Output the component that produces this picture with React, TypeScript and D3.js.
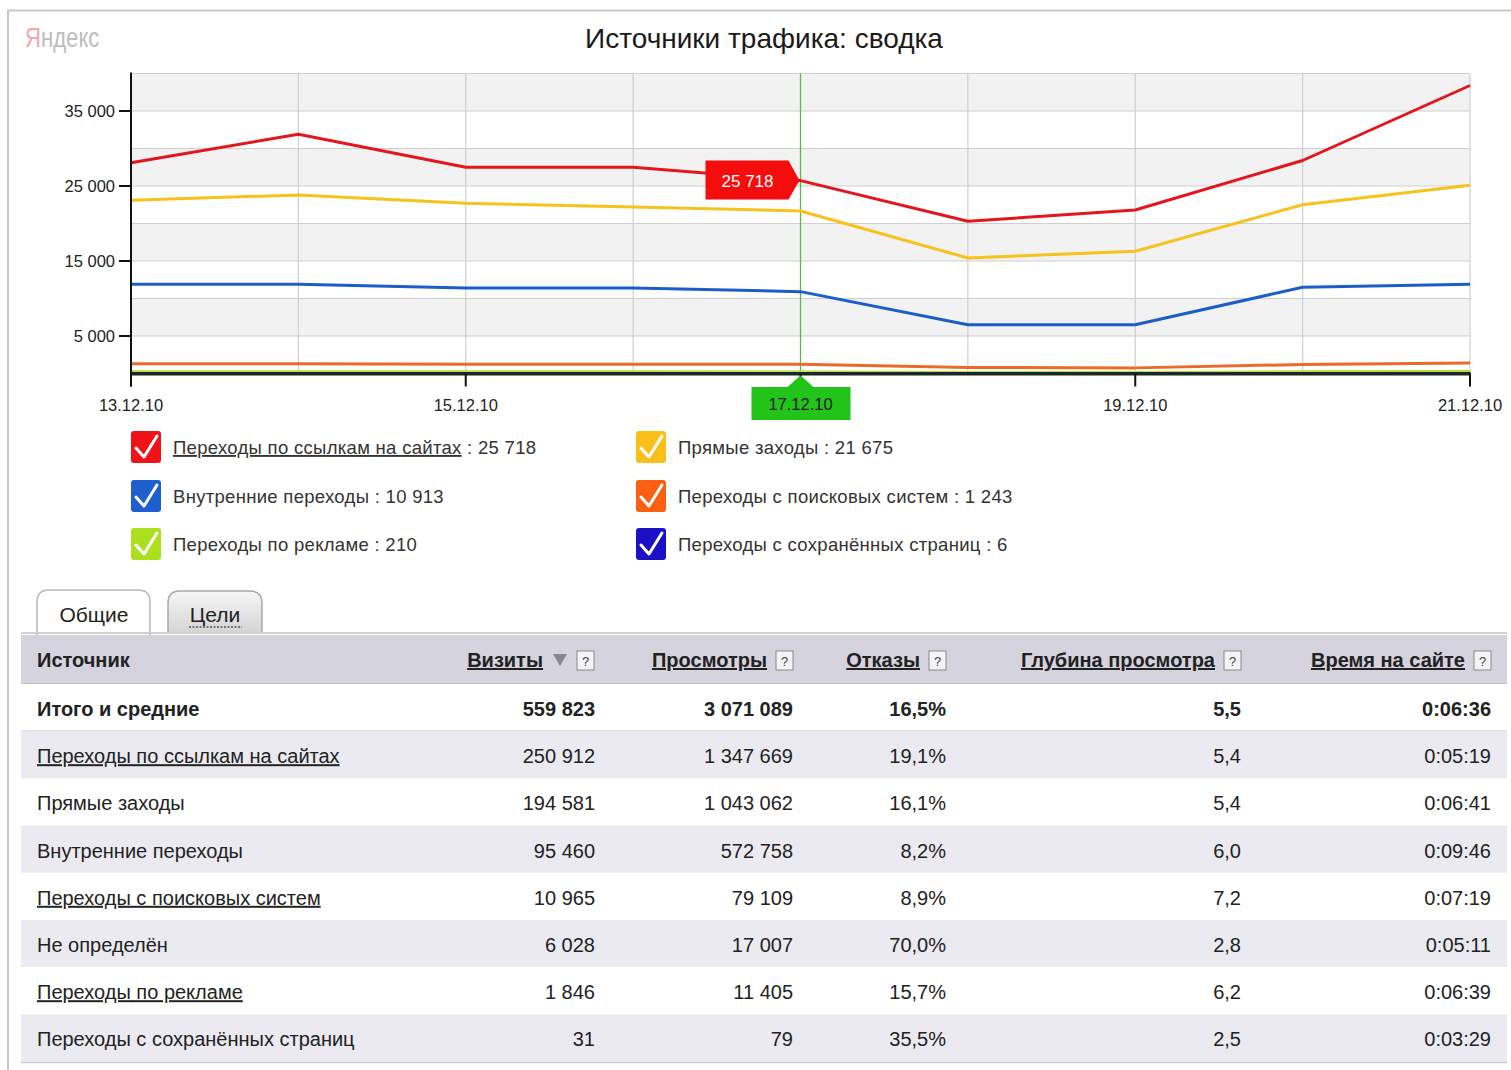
import React from 'react';
import * as d3 from 'd3';

const dates = ['13.12.10', '14.12.10', '15.12.10', '16.12.10', '17.12.10', '18.12.10', '19.12.10', '20.12.10', '21.12.10'];
const linkVisits = [28100, 31900, 27500, 27500, 25718, 20300, 21800, 28400, 38400];
const directVisits = [23100, 23800, 22700, 22200, 21675, 15400, 16300, 22500, 25100];
const internalVisits = [11900, 11900, 11400, 11400, 10913, 6500, 6500, 11500, 11900];
const searchVisits = [1300, 1300, 1250, 1250, 1243, 800, 750, 1200, 1400];
const adVisits = [250, 250, 230, 220, 210, 150, 150, 220, 260];
const savedVisits = [7, 6, 6, 5, 6, 3, 3, 5, 6];
const yTickValues = [5000, 15000, 25000, 35000];
const xTickLabels = ['13.12.10', '15.12.10', '17.12.10', '19.12.10', '21.12.10'];
const selectedDate = '17.12.10';

const seriesNames = ['Переходы по ссылкам на сайтах', 'Прямые заходы', 'Внутренние переходы', 'Переходы с поисковых систем', 'Переходы по рекламе', 'Переходы с сохранённых страниц'];
const seriesColors = ['#e3161d', '#f7c21b', '#1c5ec7', '#ec6a2c', '#b4e02a', '#1f14b8'];
const boxColors = ['#f01418', '#fbbf1a', '#1e5fcf', '#fb5f12', '#acdf1d', '#1b10c6'];
const seriesLinked = [true, false, false, false, false, false];

const tableHeaders = ['Источник', 'Визиты', 'Просмотры', 'Отказы', 'Глубина просмотра', 'Время на сайте'];
const rowSources = ['Итого и средние', 'Переходы по ссылкам на сайтах', 'Прямые заходы', 'Внутренние переходы', 'Переходы с поисковых систем', 'Не определён', 'Переходы по рекламе', 'Переходы с сохранённых страниц'];
const rowLinked = [false, true, false, false, true, false, true, false];
const colVisits = ['559 823', '250 912', '194 581', '95 460', '10 965', '6 028', '1 846', '31'];
const colViews = ['3 071 089', '1 347 669', '1 043 062', '572 758', '79 109', '17 007', '11 405', '79'];
const colBounce = ['16,5%', '19,1%', '16,1%', '8,2%', '8,9%', '70,0%', '15,7%', '35,5%'];
const colDepth = ['5,5', '5,4', '5,4', '6,0', '7,2', '2,8', '6,2', '2,5'];
const colTime = ['0:06:36', '0:05:19', '0:06:41', '0:09:46', '0:07:19', '0:05:11', '0:06:39', '0:03:29'];

const FONT = 'Liberation Sans, Arial, sans-serif';
const ru = d3.formatLocale({ decimal: ',', thousands: '\u00a0', grouping: [3], currency: ['', ''] });
const fmt = ru.format(',d');

const Check = ({ x, y, color }: { x: number; y: number; color: string }) => (
  <g transform={`translate(${x},${y})`}>
    <rect width={30} height={32} rx={3} fill={color} />
    <path d="M5,17 L13,26 L26,5" fill="none" stroke="#fff" strokeWidth={3} strokeLinejoin="round" strokeLinecap="round" />
  </g>
);

const HelpBox = ({ x, y }: { x: number; y: number }) => (
  <g transform={`translate(${x},${y})`}>
    <rect width={17} height={19} fill="#f4f4f6" stroke="#8a8a8a" />
    <text x={8.5} y={15} fontSize={13} textAnchor="middle" fill="#444">?</text>
  </g>
);

export default function App() {
  const W = 1511, H = 1070;
  const x = d3.scalePoint<string>().domain(dates).range([131, 1470]);
  const y = d3.scaleLinear().domain([0, 40000]).range([373.5, 73.5]);
  const series = [linkVisits, directVisits, internalVisits, searchVisits, adVisits, savedVisits];
  const line = d3.line<number>().x((_, i) => x(dates[i]) as number).y((d) => y(d));
  const bands = d3.range(0, 40000, 5000);
  const sx = x(selectedDate) as number;
  const si = dates.indexOf(selectedDate);
  const sy = y(linkVisits[si]);

  const legendPos = [
    [131, 431], [636, 431], [131, 480], [636, 480], [131, 528], [636, 528],
  ];
  const legendOrder = [0, 1, 2, 3, 4, 5];

  const rowTop = 684;
  const rowH = 47.2;
  const rightCols = [595, 793, 946, 1241, 1491];
  const cols = [colVisits, colViews, colBounce, colDepth, colTime];
  const TF = 20;

  return (
    <svg width={W} height={H} style={{ position: 'absolute', left: 0, top: 0, background: '#fff' }} fontFamily={FONT}>
      <path d="M8,1070 L8,10.5 L1511,10.5" fill="none" stroke="#c8c8c8" strokeWidth={2} />
      <g transform="translate(25,47) scale(0.79,1)">
        <text x={0} y={0} fontSize={28} fill="#bdbdbd"><tspan fill="#f2a7a7">Я</tspan>ндекс</text>
      </g>
      <text x={764} y={48} fontSize={28} textAnchor="middle" fill="#1a1a1a">Источники трафика: сводка</text>

      {/* bands */}
      {bands.map((b, i) => (
        <rect key={b} x={131} width={1470 - 131} y={y(b + 5000)} height={y(b) - y(b + 5000)} fill={i % 2 === 1 ? '#f2f2f2' : '#fff'} />
      ))}
      {bands.concat([40000]).map((b) => (
        <line key={'h' + b} x1={131} x2={1470} y1={y(b)} y2={y(b)} stroke="#cfcfcf" strokeWidth={1.2} />
      ))}
      {dates.map((d) => (
        <line key={'v' + d} x1={x(d)} x2={x(d)} y1={y(40000)} y2={y(0)} stroke="#cfcfcf" strokeWidth={1.2} />
      ))}
      <line x1={sx} x2={sx} y1={y(40000)} y2={y(0)} stroke="#4cbf3c" strokeWidth={1.2} />

      {series.map((s, i) => (
        <path key={i} d={line(s) || ''} fill="none" stroke={seriesColors[i]} strokeWidth={3} strokeLinejoin="round" />
      ))}

      {/* axes */}
      <line x1={131} x2={131} y1={y(40000) - 1} y2={y(0) + 13} stroke="#111" strokeWidth={2} />
      <line x1={131} x2={1471} y1={y(0) + 0.5} y2={y(0) + 0.5} stroke="#1b2a12" strokeWidth={3} />
      {yTickValues.map((v) => (
        <g key={v}>
          <line x1={119} x2={131} y1={y(v)} y2={y(v)} stroke="#111" strokeWidth={2} />
          <text x={115} y={y(v) + 6} fontSize={16.5} textAnchor="end" fill="#222">{fmt(v)}</text>
        </g>
      ))}
      {xTickLabels.map((d) => (
        <g key={d}>
          <line x1={x(d)} x2={x(d)} y1={y(0)} y2={y(0) + 13} stroke="#111" strokeWidth={2} />
          {d !== selectedDate && (
            <text x={x(d)} y={411} fontSize={16.5} textAnchor="middle" fill="#222">{d}</text>
          )}
        </g>
      ))}

      {/* tooltip value */}
      <path d={`M${sx - 95},${sy - 20} H${sx - 12} L${sx - 1},${sy} L${sx - 12},${sy + 19} H${sx - 95} Z`} fill="#f50d0d" />
      <text x={sx - 53} y={sy + 6} fontSize={17} textAnchor="middle" fill="#fff">{fmt(linkVisits[si])}</text>
      {/* date marker */}
      <path d={`M${sx - 49},387 H${sx - 13} L${sx},${y(0) + 2} L${sx + 13},387 H${sx + 50} V420 H${sx - 49} Z`} fill="#23c41a" />
      <text x={sx} y={410} fontSize={16.5} textAnchor="middle" fill="#1a1a1a">{selectedDate}</text>

      {/* legend */}
      {legendOrder.map((k, j) => {
        const [lx, ly] = legendPos[j];
        return (
          <g key={k}>
            <Check x={lx} y={ly} color={boxColors[k]} />
            <text x={lx + 42} y={ly + 23} fontSize={18.5} fill="#333" letterSpacing={0.3}>
              <tspan textDecoration={seriesLinked[k] ? 'underline' : undefined}>{seriesNames[k]}</tspan>
              <tspan>{'\u00a0: '}{fmt(series[k][si])}</tspan>
            </text>
          </g>
        );
      })}

      {/* tabs */}
      <defs>
        <linearGradient id="tabg" x1="0" y1="0" x2="0" y2="1">
          <stop offset="0" stopColor="#f6f6f6" />
          <stop offset="1" stopColor="#d4d4d4" />
        </linearGradient>
      </defs>
      <path d="M37,636 V602 Q37,590 49,590 H138 Q150,590 150,602 V636" fill="#fff" stroke="#b8b8b8" strokeWidth={1.5} />
      <text x={94} y={622} fontSize={21} textAnchor="middle" fill="#222">Общие</text>
      <path d="M168,634 V603 Q168,591 180,591 H250 Q262,591 262,603 V634" fill="url(#tabg)" stroke="#a8a8a8" strokeWidth={1.5} />
      <text x={215} y={622} fontSize={21} textAnchor="middle" fill="#222">Цели</text>
      <line x1={189} x2={242} y1={627} y2={627} stroke="#555" strokeWidth={1.5} strokeDasharray="2,1.5" />

      {/* table */}
      <line x1={21} x2={1507} y1={633} y2={633} stroke="#d0d0d0" strokeWidth={2} />
      <rect x={21} y={635} width={1486} height={49} fill="#d5d3de" />
      <line x1={21} x2={1507} y1={684} y2={684} stroke="#b8b8c0" strokeWidth={1.5} />
      <text x={37} y={667} fontSize={TF} fontWeight="bold" fill="#222">{tableHeaders[0]}</text>
      <text x={543} y={667} fontSize={TF} fontWeight="bold" fill="#222" textAnchor="end" textDecoration="underline">{tableHeaders[1]}</text>
      <path d="M553,654 H567 L560,666 Z" fill="#888" />
      <HelpBox x={577} y={651} />
      <text x={767} y={667} fontSize={TF} fontWeight="bold" fill="#222" textAnchor="end" textDecoration="underline">{tableHeaders[2]}</text>
      <HelpBox x={776} y={651} />
      <text x={920} y={667} fontSize={TF} fontWeight="bold" fill="#222" textAnchor="end" textDecoration="underline">{tableHeaders[3]}</text>
      <HelpBox x={929} y={651} />
      <text x={1215} y={667} fontSize={TF} fontWeight="bold" fill="#222" textAnchor="end" textDecoration="underline">{tableHeaders[4]}</text>
      <HelpBox x={1224} y={651} />
      <text x={1465} y={667} fontSize={TF} fontWeight="bold" fill="#222" textAnchor="end" textDecoration="underline">{tableHeaders[5]}</text>
      <HelpBox x={1474} y={651} />

      {rowSources.map((src, r) => {
        const top = rowTop + r * rowH;
        const bold = r === 0;
        return (
          <g key={src}>
            <rect x={21} y={top} width={1486} height={rowH} fill={r > 0 && r % 2 === 1 ? '#ebeaf1' : '#fff'} />
            {r === 0 && <line x1={21} x2={1507} y1={top + rowH} y2={top + rowH} stroke="#c8c8cc" strokeWidth={1.5} />}
            <text x={37} y={top + 32} fontSize={TF} fontWeight={bold ? 'bold' : 'normal'} fill="#222" textDecoration={rowLinked[r] ? 'underline' : undefined}>{src}</text>
            {cols.map((c, ci) => (
              <text key={ci} x={rightCols[ci]} y={top + 32} fontSize={TF} fontWeight={bold ? 'bold' : 'normal'} fill="#222" textAnchor="end">{c[r]}</text>
            ))}
          </g>
        );
      })}
      <line x1={21} x2={1507} y1={rowTop + 8 * rowH + 1} y2={rowTop + 8 * rowH + 1} stroke="#c8c8cc" strokeWidth={1.5} />
    </svg>
  );
}
